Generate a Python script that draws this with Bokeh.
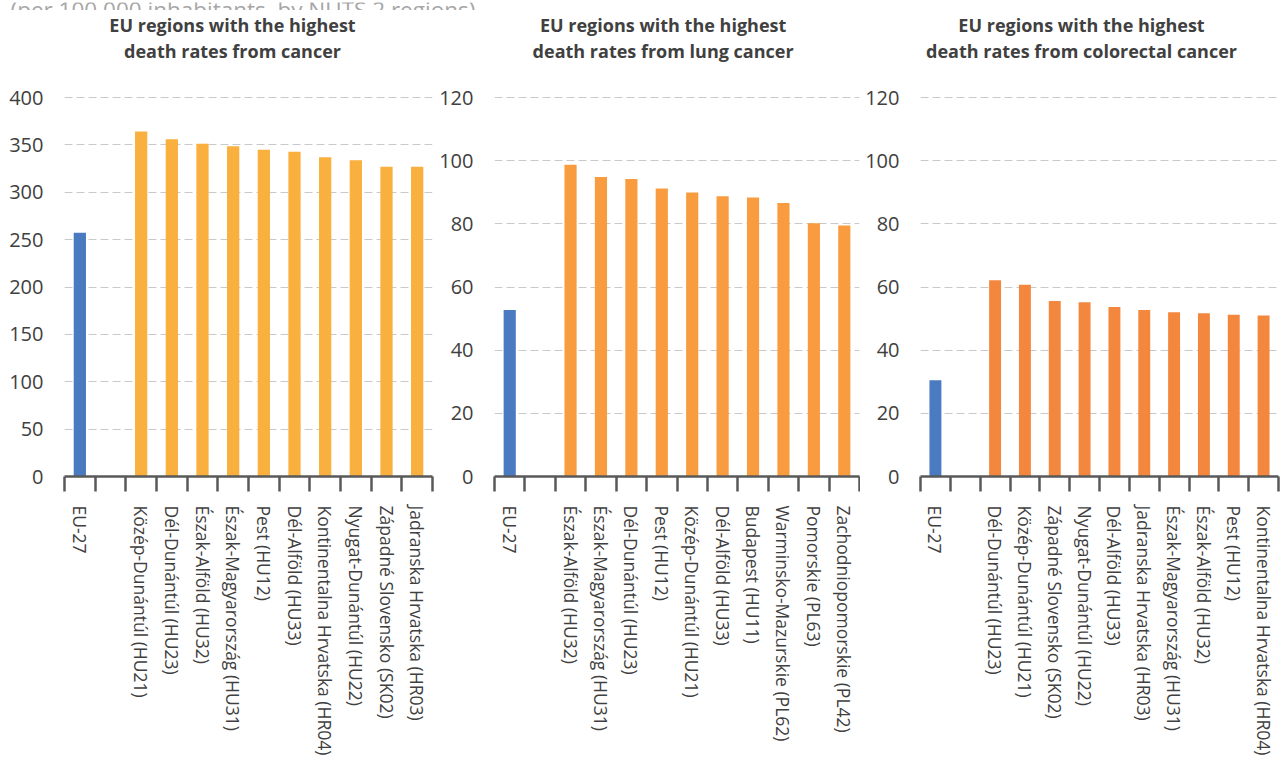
import math
from bokeh.plotting import figure
from bokeh.layouts import row, column
from bokeh.models import Range1d, FixedTicker, Label
from bokeh.embed import file_html
from bokeh.resources import INLINE

nan = float("nan")

header_text = "(per 100 000 inhabitants, by NUTS 2 regions)"

cancer_title = ["EU regions with the highest", "death rates from cancer"]
cancer_regions = ["EU-27", "", "Közép-Dunántúl (HU21)", "Dél-Dunántúl (HU23)", "Észak-Alföld (HU32)",
                  "Észak-Magyarország (HU31)", "Pest (HU12)", "Dél-Alföld (HU33)",
                  "Kontinentalna Hrvatska (HR04)", "Nyugat-Dunántúl (HU22)",
                  "Západné Slovensko (SK02)", "Jadranska Hrvatska (HR03)"]
cancer_values = [257.2, nan, 364.1, 356.0, 351.1, 348.6, 344.8, 342.7, 337.0, 333.9, 326.8, 326.8]
cancer_ticks = [0, 50, 100, 150, 200, 250, 300, 350, 400]

lung_title = ["EU regions with the highest", "death rates from lung cancer"]
lung_regions = ["EU-27", "", "Észak-Alföld (HU32)", "Észak-Magyarország (HU31)", "Dél-Dunántúl (HU23)",
                "Pest (HU12)", "Közép-Dunántúl (HU21)", "Dél-Alföld (HU33)", "Budapest (HU11)",
                "Warminsko-Mazurskie (PL62)", "Pomorskie (PL63)", "Zachodniopomorskie (PL42)"]
lung_values = [52.7, nan, 98.7, 94.8, 94.2, 91.2, 89.9, 88.7, 88.3, 86.6, 80.2, 79.5]
lung_ticks = [0, 20, 40, 60, 80, 100, 120]

colorectal_title = ["EU regions with the highest", "death rates from colorectal cancer"]
colorectal_regions = ["EU-27", "", "Dél-Dunántúl (HU23)", "Közép-Dunántúl (HU21)",
                      "Západné Slovensko (SK02)", "Nyugat-Dunántúl (HU22)", "Dél-Alföld (HU33)",
                      "Jadranska Hrvatska (HR03)", "Észak-Magyarország (HU31)", "Észak-Alföld (HU32)",
                      "Pest (HU12)", "Kontinentalna Hrvatska (HR04)"]
colorectal_values = [30.5, nan, 62.1, 60.7, 55.6, 55.2, 53.7, 52.7, 52.0, 51.7, 51.2, 51.0]
colorectal_ticks = [0, 20, 40, 60, 80, 100, 120]

EU_COLOR = "#4a7bc0"
panel_colors = ["#f9b03f", "#f99c40", "#f4873e"]

FONT = "Open Sans"
TEXT = "#404040"
W = 1282
HEAD_H = 10
H = 758 - HEAD_H
GRID_TOP = 97 - HEAD_H       # pixel row of the highest gridline (inside panel figure)
FRAME_BOTTOM = 476 - HEAD_H  # pixel row of the zero line (inside panel figure)

# thin header strip: the subtitle is cut off by the top edge, as in the reference
head = figure(width=W, height=HEAD_H, output_backend="svg", toolbar_location=None,
              x_range=Range1d(0, W), y_range=Range1d(0, HEAD_H),
              min_border_left=0, min_border_right=0, min_border_top=0, min_border_bottom=0)
head.axis.visible = False
head.grid.grid_line_color = None
head.outline_line_color = None
head.add_layout(Label(x=10, y=HEAD_H - 7, text=header_text, text_align="left",
                      text_baseline="alphabetic", text_font=FONT, text_font_size="22.5px",
                      text_color="#a6a6a6"))


def make_panel(title, regions, values, ticks, color, width, left, right, title_cx):
    n = len(regions)
    ymax = ticks[-1]
    ppy = (FRAME_BOTTOM - GRID_TOP) / ymax
    y_end = FRAME_BOTTOM / ppy  # frame reaches the top edge of the canvas
    p = figure(width=width, height=H, output_backend="svg", toolbar_location=None,
               x_range=Range1d(0, n), y_range=Range1d(0, y_end),
               min_border_left=left, min_border_right=right,
               min_border_top=0, min_border_bottom=H - FRAME_BOTTOM)
    p.outline_line_color = None
    p.background_fill_color = "white"
    p.border_fill_color = "white"

    xs, tops, cols = [], [], []
    for i, v in enumerate(values):
        if not math.isnan(v):
            xs.append(i + 0.5)
            tops.append(v)
            cols.append(EU_COLOR if regions[i] == "EU-27" else color)
    p.vbar(x=xs, top=tops, width=0.4, bottom=0, fill_color=cols, line_color=None)

    # x axis: labels at slot centres, ticks at slot boundaries
    xa = p.xaxis[0]
    xa.ticker = FixedTicker(ticks=[i + 0.5 for i in range(n)], minor_ticks=list(range(n + 1)))
    xa.major_label_overrides = {i + 0.5: r for i, r in enumerate(regions)}
    xa.major_label_orientation = "vertical"
    xa.major_label_text_font = FONT
    xa.major_label_text_font_size = "17.5px"
    xa.major_label_text_color = TEXT
    xa.major_label_standoff = 14
    xa.major_tick_in = 0
    xa.major_tick_out = 0
    xa.minor_tick_in = 0
    xa.minor_tick_out = 15
    xa.minor_tick_line_width = 2.5
    xa.minor_tick_line_color = "#595959"
    xa.axis_line_width = 2.5
    xa.axis_line_color = "#595959"

    # y axis
    ya = p.yaxis[0]
    ya.ticker = FixedTicker(ticks=ticks)
    ya.axis_line_color = None
    ya.major_tick_line_color = None
    ya.minor_tick_line_color = None
    ya.major_tick_out = 0
    ya.major_label_standoff = 21
    ya.major_label_text_font = FONT
    ya.major_label_text_font_size = "20px"
    ya.major_label_text_color = TEXT

    p.xgrid.grid_line_color = None
    p.ygrid.grid_line_color = "#c9c9c9"
    p.ygrid.grid_line_dash = "8 4"
    p.ygrid.grid_line_width = 1.2

    # two-line panel title, inside the (extended) frame
    frame_w = width - left - right
    ppx = frame_w / n
    cx = (title_cx - left) / ppx
    for sy, line in zip([24 - HEAD_H, 50 - HEAD_H], title):
        p.add_layout(Label(x=cx, y=(FRAME_BOTTOM - sy) / ppy, text=line,
                           text_align="center", text_baseline="alphabetic",
                           text_font=FONT, text_font_style="bold",
                           text_font_size="18px", text_color=TEXT))
    return p


p1 = make_panel(cancer_title, cancer_regions, cancer_values, cancer_ticks, panel_colors[0],
                width=436, left=64, right=4, title_cx=232)
p2 = make_panel(lung_title, lung_regions, lung_values, lung_ticks, panel_colors[1],
                width=424, left=55, right=1, title_cx=661 - 436)
p3 = make_panel(colorectal_title, colorectal_regions, colorectal_values, colorectal_ticks, panel_colors[2],
                width=422, left=60, right=4, title_cx=1081 - 860)

layout = column(head, row(p1, p2, p3))
open("out.html", "w").write(file_html(layout, INLINE))
